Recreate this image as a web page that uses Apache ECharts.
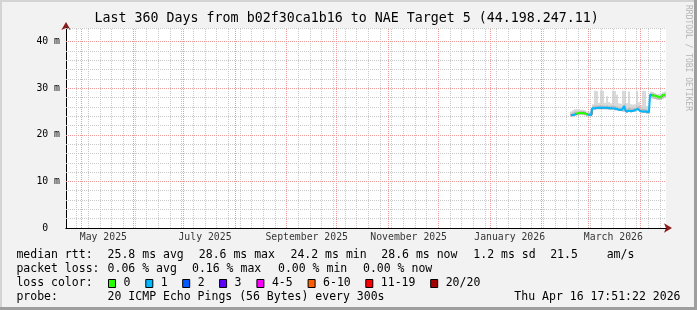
<!DOCTYPE html>
<html><head><meta charset="utf-8">
<script src="https://cdn.jsdelivr.net/npm/echarts@6/dist/echarts.min.js"></script>
<style>html,body{margin:0;padding:0;background:#f2f2f2;}#c{width:697px;height:310px;}</style>
</head><body><div id="c"></div>
<script>
// ---- data (x = days since start of the 360-day window) ----
const days = [303.0,304.2,305.4,306.6,307.8,309.0,310.2,311.4,312.6,313.8,315.0,316.2,317.4,318.6,319.8,321.0,322.2,323.4,324.6,325.8,327.0,328.2,329.4,330.6,331.8,333.0,334.2,335.4,336.6,337.8,339.0,340.2,341.4,342.6,343.8,345.0,346.2,347.4,348.6,349.8,351.0,352.2,353.4,354.6,355.8,357.0,358.2,359.4];
const median = [24.2,24.3,24.5,24.5,24.7,24.7,24.7,24.6,24.3,24.3,24.3,
  25.7,25.7,25.8,25.8,25.8,25.8,25.8,25.8,25.7,25.7,25.7,25.6,25.6,25.4,25.4,25.3,26.2,25.0,25.2,25.1,25.2,25.3,25.6,25.7,25.1,25.0,25.0,24.9,24.9,
  28.6,28.5,28.4,28.2,28.1,28.0,28.5,28.6];
const lossCount = [1,1,1,0,0,0,0,0,0,1,1,
  1,1,1,1,1,1,1,1,1,1,1,1,1,1,1,1,1,1,1,1,1,1,1,1,1,1,1,1,1,
  1,0,0,0,0,0,0,0];
const smokeLo = [23.9,24.0,24.1,24.2,24.3,24.3,24.3,24.2,24.0,24.0,24.0,
  25.4,25.4,25.5,25.5,25.5,25.5,25.5,25.5,25.4,25.4,25.4,25.3,25.3,25.1,25.1,25.0,25.0,24.7,24.9,24.8,24.9,25.0,25.3,25.4,24.8,24.7,24.7,24.6,24.6,
  27.9,27.8,27.7,27.6,27.5,27.5,27.8,28.0];
const smokeMid = [24.6,24.8,25.0,25.0,25.1,25.1,25.1,25.0,24.7,24.7,24.8,
  26.1,26.3,26.3,26.3,26.4,26.3,26.2,26.3,26.2,26.2,26.3,26.2,26.1,25.9,25.9,25.8,26.5,25.6,25.8,25.7,25.7,25.8,26.1,26.2,25.6,25.6,25.6,25.4,25.4,
  28.9,28.9,28.7,28.5,28.4,28.4,28.8,28.9];
const smokeHi = [25.0,25.3,25.5,25.5,25.5,25.4,25.4,25.3,25.0,25.0,25.2,
  26.6,29.5,29.4,26.9,29.6,29.5,26.9,28.3,27.0,26.8,29.5,29.4,28.6,26.8,26.7,29.5,29.4,26.8,29.3,26.6,26.5,26.6,29.5,27.0,26.4,29.5,29.4,26.2,26.0,
  29.3,29.2,29.0,28.8,28.8,28.9,29.2,29.3];

// ---- axes / labels ----
const yMax = 42.95;
const yMajor = [10,20,30,40];
const yMinor = [2,4,6,8,12,14,16,18,22,24,26,28,32,34,36,38];
const monthStarts = [9.256,40.256,70.256,101.256,132.256,162.256,193.256,223.256,254.256,285.256,313.256,344.256];
const monthLabels = ['May 2025','July 2025','September 2025','November 2025','January 2026','March 2026'];
const monthLabelDays = [22.4,83.4,144.4,205.6,266.2,328.4];
const weekStarts = [];
for (let d = 6.256; d < 360; d += 7) weekStarts.push(+d.toFixed(3));

const lossBuckets = ['0','1','2','3','4-5','6-10','11-19','20/20'];
const lossColors = ['#26ff00','#00b8ff','#0059ff','#5e00ff','#ff00ff','#ff5e00','#ff0000','#a10000'];

const titleText = 'Last 360 Days from b02f30ca1b16 to NAE Target 5 (44.198.247.11)';
const legendRows = [
  {y:255, items:[[16.4,'median rtt:'],[107.6,'25.8 ms avg'],[198.8,'28.6 ms max'],[290.5,'24.2 ms min'],[381.3,'28.6 ms now'],[473.3,'1.2 ms sd'],[550.2,'21.5'],[606.7,'am/s']]},
  {y:269, items:[[16.4,'packet loss:'],[107.6,'0.06 % avg'],[192,'0.16 % max'],[278,'0.00 % min'],[363,'0.00 % now']]},
  {y:283, items:[[16.4,'loss color:']]},
  {y:297, items:[[16.4,'probe:'],[107.6,'20 ICMP Echo Pings (56 Bytes) every 300s']]}
];
const lossBoxX = [108,145.3,182.2,219.1,256.4,307.6,365.3,430.2];
const dateText = 'Thu Apr 16 17:51:22 2026';

const FONT = 'DejaVu Sans Mono';
const chart = echarts.init(document.getElementById('c'), null, {renderer:'canvas'});

const gridLines = [];
weekStarts.forEach(d => gridLines.push({xAxis:d, lineStyle:{color:'#c9c9c9', type:[1,1], width:1}}));
yMinor.forEach(v => gridLines.push({yAxis:v, lineStyle:{color:'#c9c9c9', type:[1,1], width:1}}));
gridLines.push({yAxis:yMax, lineStyle:{color:'#c9c9c9', type:[1,1], width:1}});
monthStarts.forEach(d => gridLines.push({xAxis:d, lineStyle:{color:'#ec9a9a', type:[1,1], width:1}}));
yMajor.forEach(v => gridLines.push({yAxis:v, lineStyle:{color:'#ec9a9a', type:[1,1], width:1}}));

const pairs = a => a.map((v,i) => [days[i], v]);
const lossSeries = [0,1].map(k => ({
  type:'line', name:'loss'+k, step:'middle', symbol:'none', z:5,
  data: median.map((v,i) => [days[i], lossCount[i] === k ? v : null]),
  connectNulls:false,
  lineStyle:{color:lossColors[k], width:2}
}));

// smoke drawn as one stepped column per sample, through the axis scales
const halfStep = (days[1] - days[0]) / 2;
function renderSmoke(params, api) {
  const x = api.value(0), lo = api.value(1), mid = api.value(2), hi = api.value(3);
  const a = api.coord([x - halfStep, hi]);
  const b = api.coord([x + halfStep, lo]);
  const m = api.coord([x, mid]);
  const cs = params.coordSys;
  return {type:'group', children:[
    {type:'rect', shape:{x:a[0], y:a[1], width:b[0]-a[0], height:b[1]-a[1]}, style:{fill:'#d9d9d9'}},
    {type:'rect', shape:{x:a[0], y:m[1], width:b[0]-a[0], height:b[1]-m[1]}, style:{fill:'#bdbdbd'}}
  ]};
}

const graphics = [];
graphics.push({type:'rect', shape:{x:0,y:0,width:697,height:2}, style:{fill:'#d4d4d4'}, z:-9});
graphics.push({type:'rect', shape:{x:0,y:0,width:2,height:310}, style:{fill:'#d4d4d4'}, z:-9});
graphics.push({type:'rect', shape:{x:694,y:0,width:3,height:310}, style:{fill:'#9e9e9e'}, z:-9});
graphics.push({type:'rect', shape:{x:0,y:307,width:697,height:3}, style:{fill:'#9e9e9e'}, z:-9});
graphics.push({type:'text', x:346.7, y:19, style:{text:titleText, font:'13.3px "'+FONT+'"', fill:'#000', textAlign:'center', textVerticalAlign:'middle'}});
graphics.push({type:'text', x:688, y:5, rotation:-Math.PI/2, style:{text:'RRDTOOL / TOBI OETIKER', font:'8px "'+FONT+'"', fill:'#b4b4b4', textAlign:'left', textVerticalAlign:'middle'}});
legendRows.forEach(r => r.items.forEach(([x,t]) => graphics.push({type:'text', x:x, y:r.y, style:{text:t, font:'11.5px "'+FONT+'"', fill:'#000', textAlign:'left', textVerticalAlign:'middle'}})));
lossBuckets.forEach((b,i) => {
  graphics.push({type:'rect', shape:{x:lossBoxX[i]+0.5, y:279.5, width:7, height:8}, style:{fill:lossColors[i], stroke:'#000', lineWidth:1}});
  graphics.push({type:'text', x:lossBoxX[i]+15.5, y:283, style:{text:b, font:'11.5px "'+FONT+'"', fill:'#000', textAlign:'left', textVerticalAlign:'middle'}});
});
graphics.push({type:'text', x:680.5, y:297, style:{text:dateText, font:'11.5px "'+FONT+'"', fill:'#000', textAlign:'right', textVerticalAlign:'middle'}});

chart.setOption({
  animation:false,
  backgroundColor:'#f2f2f2',
  grid:{left:66, top:28, width:600, height:200, show:true, backgroundColor:'#ffffff', borderWidth:0},
  xAxis:[
    {type:'value', min:0, max:360, z:4,
     axisLine:{show:true, lineStyle:{color:'#000', width:1}},
     axisTick:{show:false}, axisLabel:{show:false}, splitLine:{show:false}},
    {type:'value', min:0, max:360, position:'bottom', z:3,
     axisLine:{show:true, symbol:['none','arrow'], symbolSize:[7,8], symbolOffset:[0,6], lineStyle:{color:'#8a1c1c', width:1}},
     axisTick:{show:false}, axisLabel:{show:false}, splitLine:{show:false}}
  ],
  yAxis:[
    {type:'value', min:0, max:yMax, interval:10, z:4,
     axisLine:{show:true, lineStyle:{color:'#000', width:1}},
     axisTick:{show:false}, splitLine:{show:false},
     axisLabel:{showMaxLabel:false, margin:6, color:'#000', fontFamily:FONT, fontSize:9.8,
       formatter: v => v === 0 ? '0  ' : v + ' m'}},
    {type:'value', min:0, max:yMax, position:'left', z:3,
     axisLine:{show:true, symbol:['none','arrow'], symbolSize:[7,8], symbolOffset:[0,6], lineStyle:{color:'#8a1c1c', width:1}},
     axisTick:{show:false}, axisLabel:{show:false}, splitLine:{show:false}}
  ],
  series:[
    {type:'line', name:'grid', symbol:'none', z:1, data:[[0,null]],
     markLine:{silent:true, symbol:['none','none'], label:{show:false}, animation:false, data:gridLines}},
    {type:'custom', name:'smoke', z:2, renderItem:renderSmoke, silent:true,
     encode:{x:0, y:[1,2,3]},
     data: days.map((d,i) => [d, smokeLo[i], smokeMid[i], smokeHi[i]])},
    {type:'line', name:'medianDark', step:'middle', symbol:'none', z:4,
     data:pairs(median), lineStyle:{color:'#202020', width:1}},
    ...lossSeries,
    {type:'scatter', name:'monthLabels', symbolSize:0, z:6, silent:true,
     data: monthLabels.map((t,i) => [monthLabelDays[i], 0, t]),
     label:{show:true, position:'bottom', distance:4, formatter: p => p.data[2], color:'#000', fontFamily:FONT, fontSize:9.8}}
  ],
  graphic:graphics
});
</script></body></html>
